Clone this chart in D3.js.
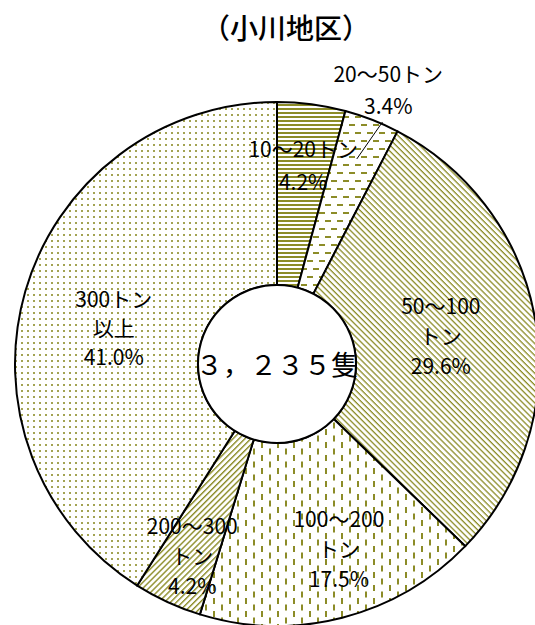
<!DOCTYPE html>
<html>
<head>
<meta charset="utf-8">
<script src="https://cdn.jsdelivr.net/npm/d3@7.9.0/dist/d3.min.js"></script>
<style>
  html, body { margin: 0; padding: 0; background: #fff; }
  text { font-family: "Noto Sans CJK JP", "Noto Sans", sans-serif; fill: #000; }
</style>
</head>
<body>
<svg id="chart" width="535" height="625"></svg>
<script>
// 小川地区 — 隻数の階層別割合
const title = '（小川地区）';
const total = '３，２３５隻';
const classes = ['10～20トン', '20～50トン', '50～100トン', '100～200トン', '200～300トン', '300トン以上'];
const shares = [4.2, 3.4, 29.6, 17.5, 4.2, 41.0];
// how each label is broken into lines
const labelLines = [
  ['10～20トン', '4.2%'],
  ['20～50トン', '3.4%'],
  ['50～100', 'トン', '29.6%'],
  ['100～200', 'トン', '17.5%'],
  ['200～300', 'トン', '4.2%'],
  ['300トン', '以上', '41.0%']
];
const patterns = ['hstripe', 'hdash', 'diagDown', 'vdash', 'diagUp', 'dots'];

const olive = '#8c8c28';
const cx = 277, cy = 364;
const outerR = 262, innerR = 79;

const svg = d3.select('#chart');
const defs = svg.append('defs');

/*fill patterns*/
function pattern(id, w, h, draw, transform) {
  const p = defs.append('pattern')
    .attr('id', id)
    .attr('patternUnits', 'userSpaceOnUse')
    .attr('width', w)
    .attr('height', h);
  if (transform) p.attr('patternTransform', transform);
  p.append('rect').attr('width', w).attr('height', h).attr('fill', '#fff');
  draw(p);
}
pattern('hstripe', 4, 4, p => p.append('rect').attr('y', 0).attr('width', 4).attr('height', 2).attr('fill', olive));
pattern('hdash', 12, 16, p => {
  p.append('rect').attr('x', 0).attr('y', 0).attr('width', 6).attr('height', 2).attr('fill', olive);
  p.append('rect').attr('x', 6).attr('y', 8).attr('width', 6).attr('height', 2).attr('fill', olive);
});
pattern('diagDown', 4.2, 4.2, p => p.append('rect').attr('width', 4.2).attr('height', 1.3).attr('fill', olive), 'rotate(45)');
pattern('vdash', 16, 13, p => {
  p.append('rect').attr('x', 0).attr('y', 0).attr('width', 2).attr('height', 6).attr('fill', olive);
  p.append('rect').attr('x', 8).attr('y', 6.5).attr('width', 2).attr('height', 6).attr('fill', olive);
});
pattern('diagUp', 4.2, 4.2, p => p.append('rect').attr('width', 4.2).attr('height', 1.4).attr('fill', olive), 'rotate(-45)');
pattern('dots', 6, 6, p => p.append('rect').attr('x', 2).attr('y', 2).attr('width', 2).attr('height', 2).attr('fill', olive).attr('opacity', 0.8));

/*title*/
svg.append('text')
  .attr('x', 286).attr('y', 39)
  .attr('text-anchor', 'middle')
  .attr('font-size', 28)
  .attr('font-weight', 500)
  .text(title);

/*donut*/
const data = classes.map((c, i) => ({ name: c, value: shares[i], pat: patterns[i], lines: labelLines[i] }));
const pie = d3.pie().sort(null).value(d => d.value);
const arcs = pie(data);
const arc = d3.arc().innerRadius(innerR).outerRadius(outerR);

const g = svg.append('g').attr('transform', `translate(${cx},${cy})`);

g.selectAll('path.slice')
  .data(arcs)
  .join('path')
  .attr('class', 'slice')
  .attr('d', arc)
  .attr('fill', d => `url(#${d.data.pat})`)
  .attr('stroke', '#000')
  .attr('stroke-width', 2)
  .attr('stroke-linejoin', 'round');

g.append('circle')
  .attr('r', innerR)
  .attr('fill', '#fff')
  .attr('stroke', '#000')
  .attr('stroke-width', 2);

g.append('text')
  .attr('y', 11)
  .attr('text-anchor', 'middle')
  .attr('font-size', 27)
  .text(total);

/*labels: [angle shift in degrees, radius, line height] per slice*/
const labelPos = [[0, 199, 33], [0.9, 295, 32], [0, 166, 30], [-4, 196, 30], [-1, 211, 30], [-4, 167, 29]];

g.selectAll('text.lab')
  .data(arcs)
  .join('text')
  .attr('class', 'lab')
  .attr('text-anchor', 'middle')
  .attr('font-size', 21)
  .each(function (d, i) {
    const [shift, r, lineH] = labelPos[i];
    const a = (d.startAngle + d.endAngle) / 2 + shift * Math.PI / 180;
    const x = Math.sin(a) * r, y = -Math.cos(a) * r;
    const n = d.data.lines.length;
    d3.select(this).selectAll('tspan')
      .data(d.data.lines)
      .join('tspan')
      .attr('x', x)
      .attr('y', (t, k) => y + (k - (n - 1) / 2) * lineH + 7)
      .text(t => t);
  });

/*leader line for the small 20～50 slice*/
const small = arcs[1];
const mid = (small.startAngle + small.endAngle) / 2;
g.append('line')
  .attr('x1', Math.sin(mid) * 220).attr('y1', -Math.cos(mid) * 220)
  .attr('x2', Math.sin(mid + 0.04) * 264).attr('y2', -Math.cos(mid + 0.04) * 264)
  .attr('stroke', '#000')
  .attr('stroke-width', 1);
</script>
</body>
</html>
